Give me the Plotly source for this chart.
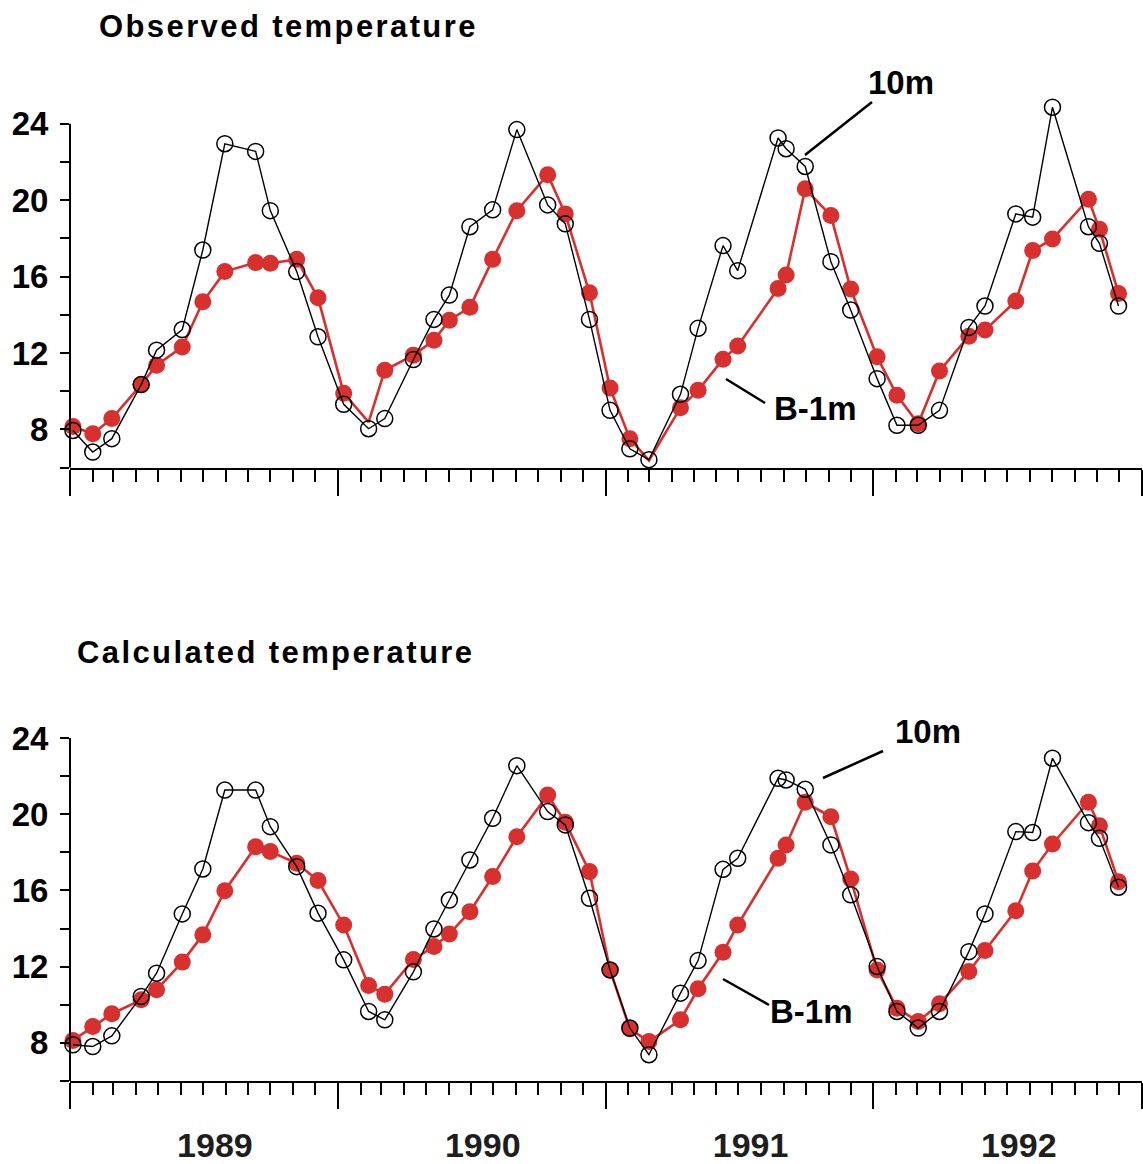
import plotly.graph_objects as go

# Sampling dates shared by both stations (monthly cruises, 1989-1992)
sample_dates = [
    "1989-01-05", "1989-02-01", "1989-02-27", "1989-04-08", "1989-04-29", "1989-06-03",
    "1989-07-01", "1989-07-31", "1989-09-11", "1989-10-01", "1989-11-06", "1989-12-05",
    "1990-01-09", "1990-02-12", "1990-03-06", "1990-04-14", "1990-05-12", "1990-06-02",
    "1990-06-30", "1990-07-31", "1990-09-02", "1990-10-14", "1990-11-07", "1990-12-10",
    "1991-01-07", "1991-02-03", "1991-03-01", "1991-04-13", "1991-05-07", "1991-06-10",
    "1991-06-30", "1991-08-24", "1991-09-04", "1991-09-30", "1991-11-04", "1991-12-01",
    "1992-01-06", "1992-02-02", "1992-03-02", "1992-03-31", "1992-05-10", "1992-06-01",
    "1992-07-13", "1992-08-05", "1992-09-01", "1992-10-20", "1992-11-04", "1992-11-30",
]

# Observed temperature (deg C)
obs_10m = [
    7.95, 6.82, 7.52, 10.35, 12.15, 13.23, 17.39, 22.95, 22.55, 19.45, 16.26, 12.85,
    9.32, 8.04, 8.57, 11.66, 13.76, 15.03, 18.61, 19.49, 23.69, 19.75, 18.76, 13.76,
    9.00, 6.99, 6.42, 9.84, 13.29, 17.62, 16.31, 23.25, 22.69, 21.76, 16.78, 14.25,
    10.66, 8.22, 8.22, 9.00, 13.34, 14.46, 19.28, 19.11, 24.86, 18.61, 17.74, 14.46,
]
obs_b1m = [
    8.16, 7.78, 8.57, 10.35, 11.36, 12.32, 14.68, 16.26, 16.73, 16.70, 16.90, 14.89,
    9.90, 8.39, 11.10, 11.89, 12.67, 13.72, 14.39, 16.90, 19.45, 21.33, 19.28, 15.15,
    10.17, 7.52, 6.38, 9.14, 10.05, 11.68, 12.37, 15.38, 16.08, 20.59, 19.19, 15.35,
    11.80, 9.79, 8.30, 11.06, 12.88, 13.20, 14.72, 17.36, 17.97, 20.05, 18.48, 15.12,
]

# Calculated temperature (deg C)
calc_10m = [
    7.90, 7.81, 8.37, 10.44, 11.66, 14.77, 17.13, 21.27, 21.27, 19.35, 17.25, 14.81,
    12.36, 9.65, 9.21, 11.73, 13.98, 15.50, 17.60, 19.79, 22.55, 20.14, 19.44, 15.59,
    11.83, 8.78, 7.38, 10.61, 12.32, 17.11, 17.69, 21.89, 21.80, 21.31, 18.39, 15.77,
    12.01, 9.65, 8.78, 9.65, 12.79, 14.77, 19.09, 19.04, 22.94, 19.56, 18.74, 16.17,
]
calc_b1m = [
    8.13, 8.86, 9.53, 10.26, 10.79, 12.24, 13.67, 15.99, 18.30, 18.04, 17.43, 16.52,
    14.19, 11.01, 10.56, 12.38, 13.06, 13.72, 14.89, 16.73, 18.82, 21.01, 19.58, 16.99,
    11.83, 8.74, 8.07, 9.21, 10.84, 12.76, 14.19, 17.69, 18.39, 20.63, 19.87, 16.60,
    11.83, 9.82, 9.12, 10.05, 11.75, 12.85, 14.94, 17.02, 18.44, 20.63, 19.40, 16.46,
]

y_tick_vals = [6, 8, 10, 12, 14, 16, 18, 20, 22, 24]
y_tick_text = ["", "8", "", "12", "", "16", "", "20", "", "24"]

panel_titles = ["Observed temperature", "Calculated temperature"]
series_names = ["10m", "B-1m"]

RED = "#d8302f"
BLACK = "#000000"
FONT = "Liberation Sans"
# observed B-1m samples drawn as a bare line vertex (no marker)
obs_b1m_unmarked = {13, 26}

fig = go.Figure()


def add_panel(xa, ya, red_vals, black_vals, unmarked=()):
    # B-1m: line through every sample, filled dots on the marked ones
    fig.add_trace(go.Scatter(
        x=sample_dates, y=red_vals, xaxis=xa, yaxis=ya, mode="lines",
        name=series_names[1], cliponaxis=False, showlegend=False,
        line=dict(color=RED, width=2.6),
    ))
    dot_vals = [None if i in unmarked else v for i, v in enumerate(red_vals)]
    fig.add_trace(go.Scatter(
        x=sample_dates, y=dot_vals, xaxis=xa, yaxis=ya, mode="markers",
        name=series_names[1], cliponaxis=False, showlegend=False,
        marker=dict(symbol="circle", size=17, color=RED),
    ))
    # 10m: thin black line with open circles
    fig.add_trace(go.Scatter(
        x=sample_dates, y=black_vals, xaxis=xa, yaxis=ya, mode="lines+markers",
        name=series_names[0], cliponaxis=False, showlegend=False,
        line=dict(color=BLACK, width=1.4),
        marker=dict(symbol="circle-open", size=16, color=BLACK, line=dict(width=1.5)),
    ))


add_panel("x", "y", obs_b1m, obs_10m, obs_b1m_unmarked)
add_panel("x2", "y2", calc_b1m, calc_10m)

x_common = dict(
    type="date", range=["1989-01-01", "1993-01-01"], tick0="1989-01-01", dtick="M12",
    showline=True, linecolor=BLACK, linewidth=2, showgrid=False, zeroline=False,
    automargin=False,
    ticks="outside", ticklen=26, tickwidth=1.5, tickcolor=BLACK,
    minor=dict(dtick="M1", ticks="outside", ticklen=12, tickwidth=1.5, tickcolor=BLACK,
               showgrid=False),
)
y_common = dict(
    range=[6, 25.5], tickmode="array", tickvals=y_tick_vals, ticktext=y_tick_text,
    showline=False, showgrid=False, zeroline=False, automargin=False,
    ticks="outside", ticklen=9, tickwidth=1.5, tickcolor=BLACK,
    tickfont=dict(family=FONT, size=33, color=BLACK, weight="bold"),
    ticklabelstandoff=5,
)

fig.update_layout(
    width=1143, height=1164,
    margin=dict(l=70, r=1, t=95, b=83),
    paper_bgcolor="white", plot_bgcolor="white",
    xaxis=dict(**x_common, anchor="y", showticklabels=False),
    yaxis=dict(**y_common, domain=[0.622, 1.0], anchor="x"),
    xaxis2=dict(**x_common, anchor="y2", showticklabels=True, ticklabelmode="period",
                tickformat="%Y", ticklabelshift=11, ticklabelstandoff=7,
                tickfont=dict(family=FONT, size=34, color="#1e1e1e", weight="bold")),
    yaxis2=dict(**y_common, domain=[0.0, 0.3768], anchor="x2"),
)

# vertical axis lines stop at the top labelled tick
for yref in ["y", "y2"]:
    xref = "x domain" if yref == "y" else "x2 domain"
    fig.add_shape(type="line", xref=xref, yref=yref, x0=0, x1=0, y0=6, y1=24,
                  line=dict(color=BLACK, width=2))

W, H, L, B = 1143, 1164, 70, 83
PW, PH = W - L - 1, H - 95 - B


def px(xp):
    return (xp - L) / PW


def py(yp):
    return (H - B - yp) / PH


title_font = dict(family=FONT, size=31, color=BLACK, weight="bold")
label_font = dict(family=FONT, size=33, color=BLACK, weight="bold")

# panel titles
for text, xl, yc in [(panel_titles[0], 97, 26), (panel_titles[1], 75, 652)]:
    fig.add_annotation(
        text='<span style="letter-spacing:2.4px">' + text + "</span>",
        xref="paper", yref="paper", x=px(xl), y=py(yc),
        xanchor="left", yanchor="middle", showarrow=False, font=title_font,
    )

# series labels with leader lines
labels = [
    (series_names[0], 901, 82, (805, 155, 872, 102)),
    (series_names[1], 815, 408, (726, 379, 765, 403)),
    (series_names[0], 928, 731, (823, 778, 883, 751)),
    (series_names[1], 811, 1011, (723, 979, 769, 1005)),
]
for text, xc, yc, (x0, y0, x1, y1) in labels:
    fig.add_annotation(text=text, xref="paper", yref="paper", x=px(xc), y=py(yc),
                       xanchor="center", yanchor="middle", showarrow=False, font=label_font)
    fig.add_shape(type="line", xref="paper", yref="paper",
                  x0=px(x0), y0=py(y0), x1=px(x1), y1=py(y1),
                  line=dict(color=BLACK, width=2.5))

fig.write_html("out.html")
